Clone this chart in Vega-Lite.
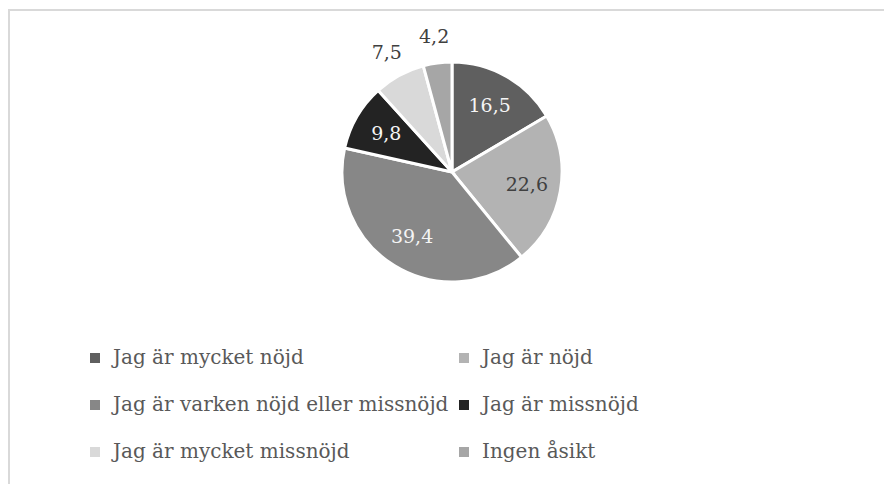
{
  "$schema": "https://vega.github.io/schema/vega-lite/v6.json",
  "width": 886,
  "height": 490,
  "autosize": {"type": "none"},
  "padding": {"left": 9, "top": 10, "right": 0, "bottom": 0},
  "background": "white",
  "config": {
    "view": {"stroke": null},
    "locale": {"number": {"decimal": ",", "thousands": " ", "grouping": [3], "currency": ["", " kr"]}},
    "legend": {
      "orient": "none",
      "legendX": 76,
      "legendY": 338,
      "columns": 2,
      "direction": "horizontal",
      "columnPadding": 5,
      "rowPadding": 27,
      "symbolType": "square",
      "symbolSize": 100,
      "symbolStrokeWidth": 0,
      "labelOffset": 8,
      "labelFont": "DejaVu Serif",
      "labelFontSize": 20,
      "labelColor": "#595959",
      "labelLimit": 500,
      "padding": 0,
      "title": null
    }
  },
  "data": {
    "values": [
      {"ordning": 1, "kategori": "Jag är mycket nöjd", "andel": 16.5},
      {"ordning": 2, "kategori": "Jag är nöjd", "andel": 22.6},
      {"ordning": 3, "kategori": "Jag är varken nöjd eller missnöjd", "andel": 39.4},
      {"ordning": 4, "kategori": "Jag är missnöjd", "andel": 9.8},
      {"ordning": 5, "kategori": "Jag är mycket missnöjd", "andel": 7.5},
      {"ordning": 6, "kategori": "Ingen åsikt", "andel": 4.2}
    ]
  },
  "layer": [
    {
      "data": {"values": [{"ram": 1}]},
      "mark": {"type": "rect", "fill": null, "stroke": "#d9d9d9", "strokeWidth": 2},
      "encoding": {}
    },
    {
      "mark": {"type": "arc", "y": 162, "outerRadius": 110, "stroke": "white", "strokeWidth": 3},
      "encoding": {
        "theta": {"field": "andel", "type": "quantitative", "stack": true},
        "order": {"field": "ordning", "type": "quantitative"},
        "color": {
          "field": "kategori",
          "type": "nominal",
          "sort": null,
          "scale": {
            "domain": ["Jag är mycket nöjd", "Jag är nöjd", "Jag är varken nöjd eller missnöjd", "Jag är missnöjd", "Jag är mycket missnöjd", "Ingen åsikt"],
            "range": ["#5f5f5f", "#b3b3b3", "#878787", "#232323", "#d9d9d9", "#a6a6a6"]
          },
          "legend": {"title": null}
        }
      }
    },
    {
      "mark": {"type": "text", "y": 162, "radius": 76, "font": "DejaVu Serif", "fontSize": 19},
      "encoding": {
        "theta": {"field": "andel", "type": "quantitative", "stack": true},
        "order": {"field": "ordning", "type": "quantitative"},
        "text": {
          "condition": {"test": "datum.kategori !== 'Jag är mycket missnöjd' && datum.kategori !== 'Ingen åsikt'", "field": "andel", "type": "quantitative", "format": ".1f"},
          "value": ""
        },
        "color": {
          "condition": {"test": "datum.kategori === 'Jag är nöjd'", "value": "#404040"},
          "value": "#f5f5f5"
        }
      }
    },
    {
      "mark": {"type": "text", "y": 162, "radius": 136, "font": "DejaVu Serif", "fontSize": 19, "color": "#404040"},
      "encoding": {
        "theta": {"field": "andel", "type": "quantitative", "stack": true},
        "order": {"field": "ordning", "type": "quantitative"},
        "text": {
          "condition": {"test": "datum.kategori === 'Jag är mycket missnöjd' || datum.kategori === 'Ingen åsikt'", "field": "andel", "type": "quantitative", "format": ".1f"},
          "value": ""
        }
      }
    }
  ]
}
